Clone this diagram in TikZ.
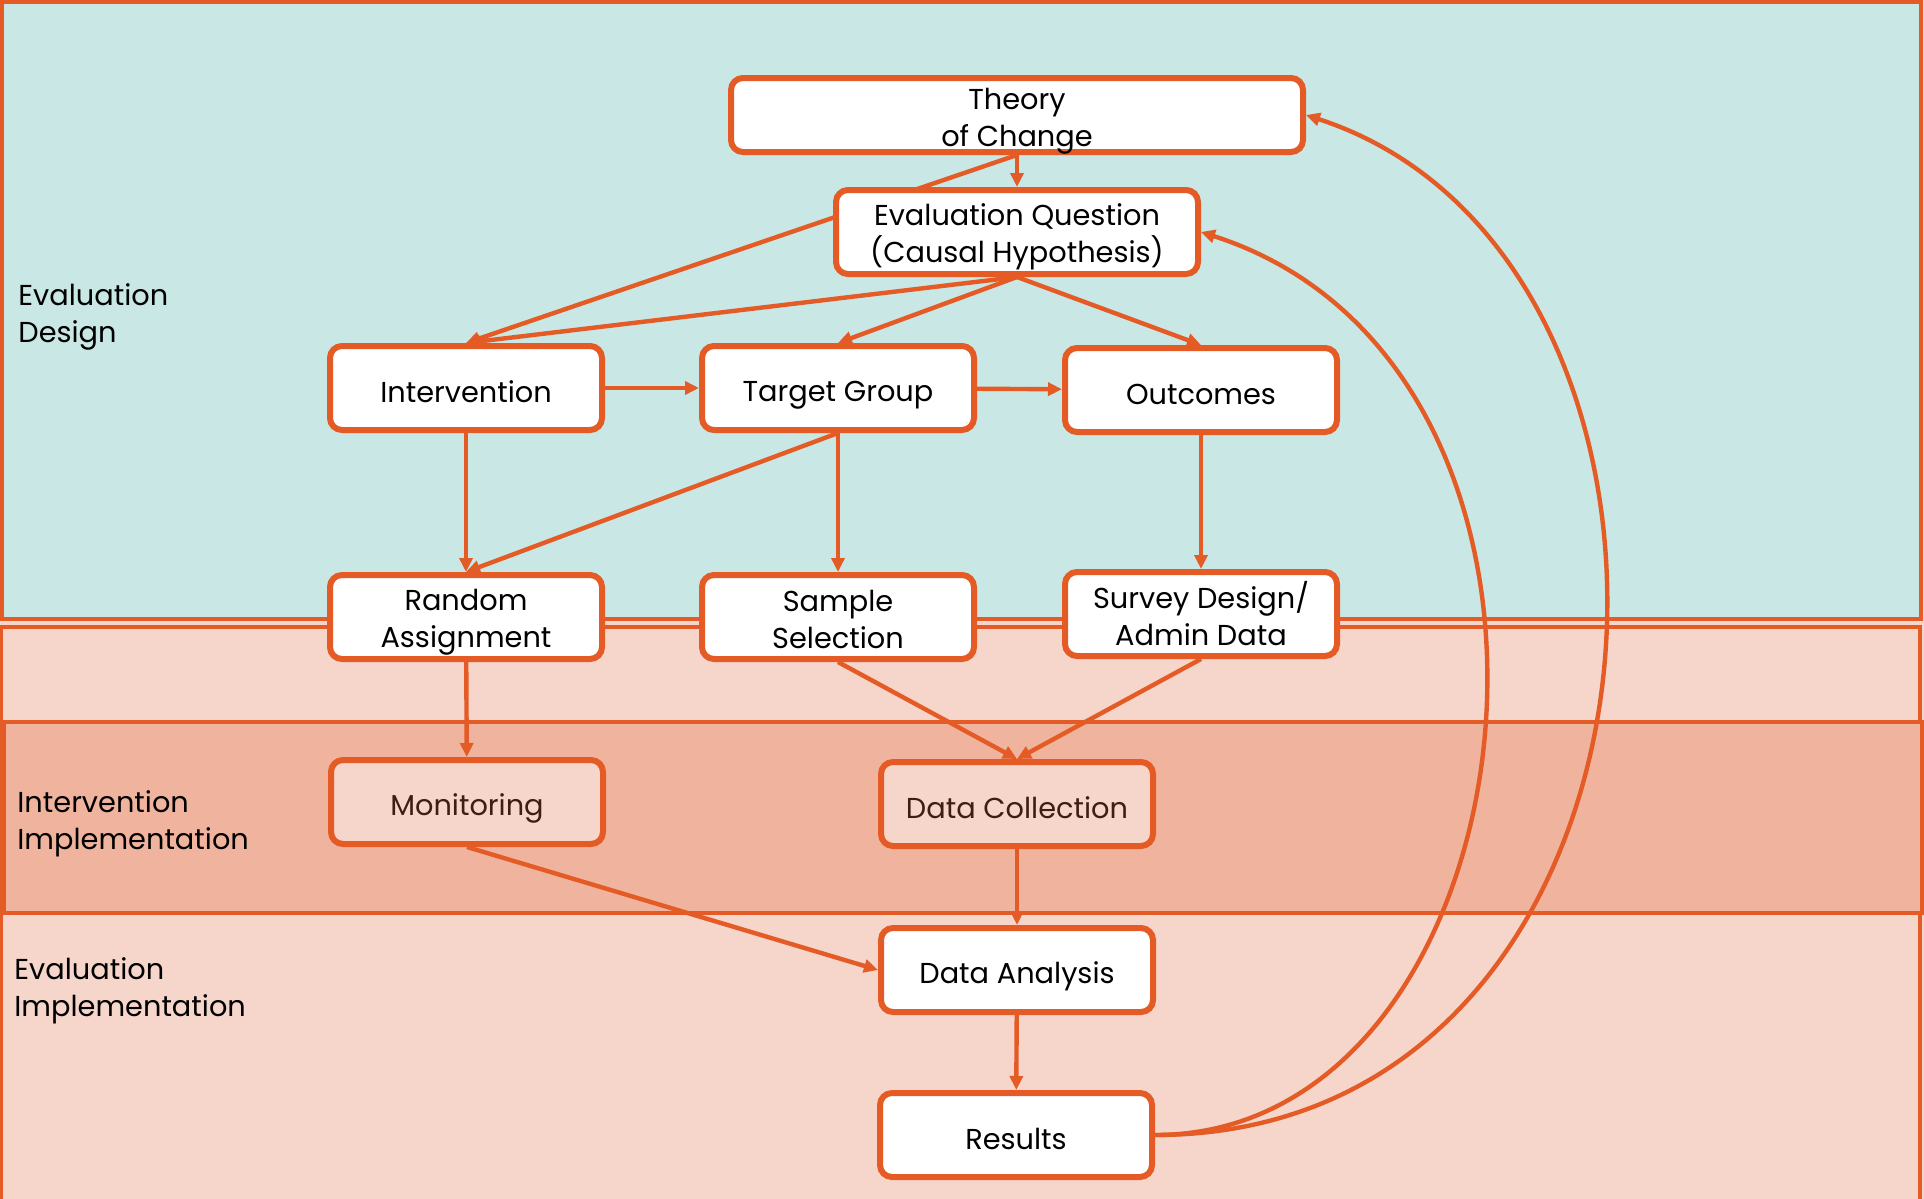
\documentclass[tikz,border=0pt]{standalone}
\usepackage{fontspec}
\setmainfont{Poppins}
\usetikzlibrary{arrows.meta}

\definecolor{edge}{HTML}{E45B26}
\definecolor{designbg}{HTML}{C9E7E4}
\definecolor{implbg}{HTML}{F6D5CA}
\definecolor{intbg}{HTML}{F0B49E}
\definecolor{softtext}{HTML}{3C1E14}

\newcommand{\firstrow}{\rule{0pt}{15.5pt}}

\pgfdeclarelayer{back}
\pgfdeclarelayer{mid}
\pgfsetlayers{back,mid,main}

\tikzset{
  stage/.style={draw=edge, line width=3pt, rounded corners=6pt, fill=white,
    minimum width=136pt, minimum height=42pt, align=center, inner xsep=2pt, inner ysep=0pt,
    execute at begin node=\rule{0pt}{17pt}, execute at end node=\rule[-3pt]{0pt}{0pt}},
  softstage/.style={stage, fill=implbg, text=softtext},
  band/.style={draw=edge, line width=2.2pt},
  bandlabel/.style={anchor=west, align=left, inner sep=0pt},
  flow/.style={draw=edge, line width=2.2pt, -{Triangle[length=7pt,width=6.5pt]}}
}

\begin{document}
\begin{tikzpicture}[x=0.5pt, y=-0.5pt, font=\fontsize{14.4}{18.5}\selectfont]
    \useasboundingbox (0,0) rectangle (1924,1199);

    % bands
    \begin{pgfonlayer}{back}
       \fill[implbg] (0,0) rectangle (1924,1199);
       \draw[band, fill=implbg] (1,627) rectangle (1920,1230);
       \draw[band, fill=designbg] (2,2) rectangle (1921,619);
       \draw[band, fill=intbg] (4,722) rectangle (1922,913);
    \end{pgfonlayer}

    \node[bandlabel] (lbldes) at (18,317) {Evaluation\\Design};
    \node[bandlabel] (lblint) at (17,824) {Intervention\\Implementation};
    \node[bandlabel] (lbleval) at (14,991) {Evaluation\\Implementation};

    \node[stage, minimum width=286pt, minimum height=35pt] (toc) at (1017,115)
          {\firstrow Theory\\\raisebox{0pt}[\height][0.5pt]{of Change}};
    \node[stage, minimum width=181pt] (eq) at (1017,232) {\firstrow Evaluation Question\\(Causal Hypothesis)};

    \node[stage] (int) at (466,388) {Intervention};
    \node[stage] (tg) at (838,388) {Target Group};
    \node[stage] (out) at (1201,390) {Outcomes};

    \node[stage] (ra) at (466,617) {\firstrow Random\\Assignment};
    \node[stage] (ss) at (838,617) {\firstrow Sample\\Selection};
    \node[stage] (sd) at (1201,614) {\firstrow Survey Design/\\Admin Data};

    \node[softstage] (mon) at (467,802) {Monitoring};
    \node[softstage] (dc) at (1017,804) {Data Collection};

    \node[stage] (da) at (1017,970) {Data Analysis};
    \node[stage] (res) at (1016,1135) {Results};

    \begin{pgfonlayer}{mid}
    \begin{scope}[every path/.style={flow}]
       \draw (toc) -- (eq);
       \draw (toc.south) -- (int.north);
       \draw (eq.south) -- (int.north);
       \draw (eq.south) -- (tg.north);
       \draw (eq.south) -- (out.north);

       \draw (int) -- (tg);
       \draw (tg) -- (out);

       \draw (int) -- (ra);
       \draw (tg.south) -- (ra.north);
       \draw (tg) -- (ss);
       \draw (out) -- (sd);

       \draw (ra) -- (mon);
       \draw (ss.south) -- (dc.north);
       \draw (sd.south) -- (dc.north);

       \draw (mon.south) -- (da.west);
       \draw (dc) -- (da);
       \draw (da) -- (res);

       \draw (res.east) .. controls (1540,1135) and (1630,370) .. (eq.east);
       \draw (res.east) .. controls (1700,1135) and (1750,260) .. (toc.east);
    \end{scope}
    \end{pgfonlayer}
\end{tikzpicture}
\end{document}
